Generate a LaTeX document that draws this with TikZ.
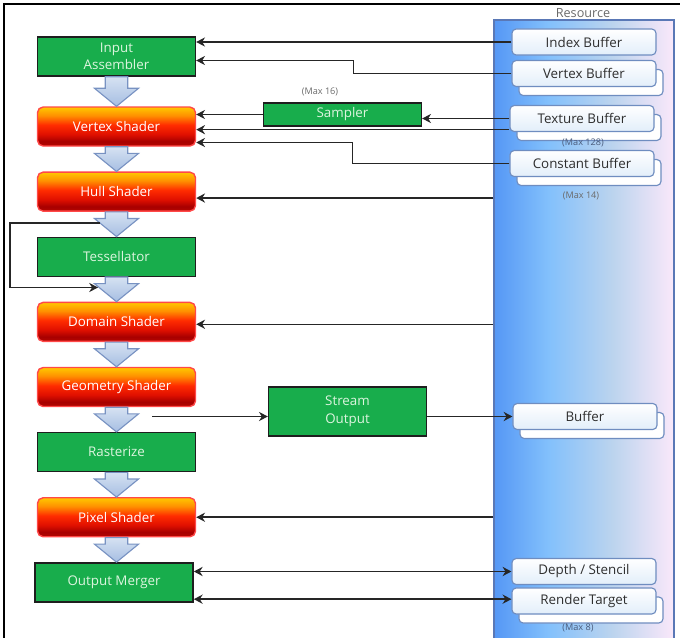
\documentclass[tikz,border=0pt]{standalone}
\usepackage{fontspec}
\setmainfont{Open Sans}
\usetikzlibrary{positioning,calc,shadows,arrows.meta}
\definecolor{gpGreen}{HTML}{18AD4C}
\definecolor{gpGreenText}{HTML}{DDF5DF}
\definecolor{gpLine}{HTML}{1E1E1E}
\definecolor{shYellow}{HTML}{FFC800}
\definecolor{shOrange}{HTML}{FF9000}
\definecolor{shRed}{HTML}{FF2C00}
\definecolor{shDeep}{HTML}{E01000}
\definecolor{shDark}{HTML}{A80000}
\definecolor{shBorder}{HTML}{FF4848}
\definecolor{pipeTop}{HTML}{D6E2F2}
\definecolor{pipeBottom}{HTML}{A6BEE2}
\definecolor{pipeBorder}{HTML}{7892C2}
\definecolor{panA}{HTML}{5597F5}
\definecolor{panB}{HTML}{82C0FC}
\definecolor{panM}{HTML}{BCD4EE}
\definecolor{panC}{HTML}{FAE8FA}
\definecolor{panBorder}{HTML}{5A78B6}
\definecolor{resBorder}{HTML}{6F8DC0}
\definecolor{resBottom}{HTML}{E2EEFA}
\definecolor{resText}{HTML}{2E2E2E}
\definecolor{noteGray}{HTML}{6A6A6A}
\definecolor{noteBlue}{HTML}{4A5C7C}
\definecolor{linkGray}{HTML}{262626}

\pgfdeclareverticalshading{shaderfill}{100bp}{color(0bp)=(shDark); color(25bp)=(shDark!85!shRed); color(31bp)=(shDark); color(40bp)=(shDeep); color(52bp)=(shRed); color(64bp)=(shOrange); color(75bp)=(shYellow); color(100bp)=(shYellow)}
\pgfdeclarehorizontalshading{panelfill}{100bp}{color(0bp)=(panA); color(25bp)=(panA); color(40bp)=(panB); color(58bp)=(panM); color(75bp)=(panC); color(100bp)=(panC)}

% fat blue arrow between two pipeline stages
\newcommand{\pipearrow}[2]{%
  \path[pipe] let \p1=(#1.south), \p2=(#2.north) in
    (\x1-0.28cm,\y1) -- (\x1+0.28cm,\y1) -- (\x1+0.28cm,\y2+0.45cm) -- (\x1+0.55cm,\y2+0.45cm)
    -- (\x1,\y2) -- (\x1-0.55cm,\y2+0.45cm) -- (\x1-0.28cm,\y2+0.45cm) -- cycle;}

\begin{document}
\begin{tikzpicture}[
    x=0.025cm, y=-0.025cm,
    node distance=0.6175cm,
    >={Stealth[length=2.2mm,width=2.3mm]},
    stagebase/.style={line width=1pt, minimum width=3.95cm, minimum height=0.975cm, align=center, inner sep=1pt, font=\fontsize{9.5}{12.5}\selectfont},
    stage/.style={stagebase, draw=gpLine, fill=gpGreen, text=gpGreenText},
    shader/.style={stagebase, draw=shBorder, rounded corners=4pt, shading=shaderfill, text=white},
    pipe/.style={draw=pipeBorder, line width=0.8pt, top color=pipeTop, bottom color=pipeBottom},
    panel/.style={draw=panBorder, line width=1pt, shading=panelfill, minimum width=4.5cm, minimum height=15.625cm},
    resbox/.style={draw=resBorder, line width=0.8pt, rounded corners=3pt, top color=white, bottom color=resBottom, minimum width=3.6cm, minimum height=0.65cm, inner sep=1pt, text=resText, font=\fontsize{9.5}{11}\selectfont},
    stacked/.style={copy shadow={shadow xshift=0.175cm, shadow yshift=-0.225cm, fill=white, draw=resBorder}},
    note/.style={text=noteGray, font=\fontsize{6.5}{8}\selectfont, inner sep=1pt},
    link/.style={->, draw=linkGray, line width=1.1pt}
]
    \useasboundingbox (0,0) rectangle (680,638);
    \draw[line width=1.4pt] (4,645) -- (4,4) -- (685,4);

    % resource side
    \node[panel] (res) at (584,332.5) {};
    \node[text=noteGray, font=\fontsize{9}{10}\selectfont, inner sep=1pt] (reslbl) at (583,13) {Resource};
    \node[resbox] (ib) at (584,42) {Index Buffer};
    \node[resbox, stacked] (vb) at (584,73.5) {Vertex Buffer};
    \node[resbox, stacked] (tb) at (582,118.5) {Texture Buffer};
    \node[note, text=noteBlue] (tbmax) at (583,143) {(Max 128)};
    \node[resbox, stacked] (cb) at (582,163.5) {Constant Buffer};
    \node[note] (cbmax) at (581,196) {(Max 14)};
    \node[resbox, stacked] (buf) at (585,416.5) {Buffer};
    \node[resbox] (dsv) at (584,571.5) {Depth / Stencil};
    \node[resbox, stacked] (rt) at (584,601) {Render Target};
    \node[note, text=noteBlue] (rtmax) at (578,628) {(Max 8)};

    % pipeline
    \node[stage] (ia) at (116.5,56.5) {Input\\Assembler};
    \node[shader, below=0.74cm of ia] (vs) {Vertex Shader};
    \node[shader, below=of vs] (hs) {Hull Shader};
    \node[stage, below=of hs] (ts) {Tessellator};
    \node[shader, below=of ts] (ds) {Domain Shader};
    \node[shader, below=of ds] (gs) {Geometry Shader};
    \node[stage, below=of gs] (rs) {Rasterize};
    \node[shader, below=of rs] (ps) {Pixel Shader};
    \node[stage, below=of ps, xshift=-0.06cm] (om) {Output Merger};

    \node[stage, minimum height=0.575cm] (sm) at (342.5,114.5) {Sampler};
    \node[note] (smmax) at (320,92) {(Max 16)};
    \node[stage, minimum height=1.225cm] (so) at (347.5,411.5) {Stream\\Output};

    \foreach \a/\b in {ia/vs,vs/hs,hs/ts,ts/ds,ds/gs,gs/rs,rs/ps,ps/om}
        \pipearrow{\a}{\b};

    \coordinate (tsin) at (100,223);
    \coordinate (tsout) at (98,287.5);
    \coordinate (gsout) at (152,416.5);

    % inputs
    \draw[link] (ib.west) -- (ib.west -| ia.east);
    \draw[link] (vb.west) -- ++(-158,0) |- ([yshift=-0.1cm]ia.east);
    \draw[link] (tb.west) -- (tb.west -| sm.east);
    \draw[link] (sm.west) -- (sm.west -| vs.east);
    \draw[link] ([yshift=0.06cm]tb.south west) -- ([yshift=0.06cm]tb.south west -| vs.east);
    \draw[link] (cb.west) -- ++(-157,0) |- ([yshift=-0.4cm]vs.east);
    \draw[link] ([yshift=-0.16cm]hs.east -| res.west) -- ([yshift=-0.16cm]hs.east);
    \draw[link] (tsin) -- ++(-90,0) |- (tsout);
    \draw[link] ([yshift=-0.06cm]ds.east -| res.west) -- ([yshift=-0.06cm]ds.east);
    \draw[link] (gsout) -- (gsout -| so.west);
    \draw[link] (so.east |- gsout) -- (buf.west);
    \draw[link] (ps.east -| res.west) -- (ps.east);
    \draw[link, <->] (om.east |- dsv.west) -- (dsv.west);
    \draw[link, <->] ([yshift=-0.42cm]om.east) -- ([yshift=-0.42cm]om.east -| rt.west);
\end{tikzpicture}
\end{document}
